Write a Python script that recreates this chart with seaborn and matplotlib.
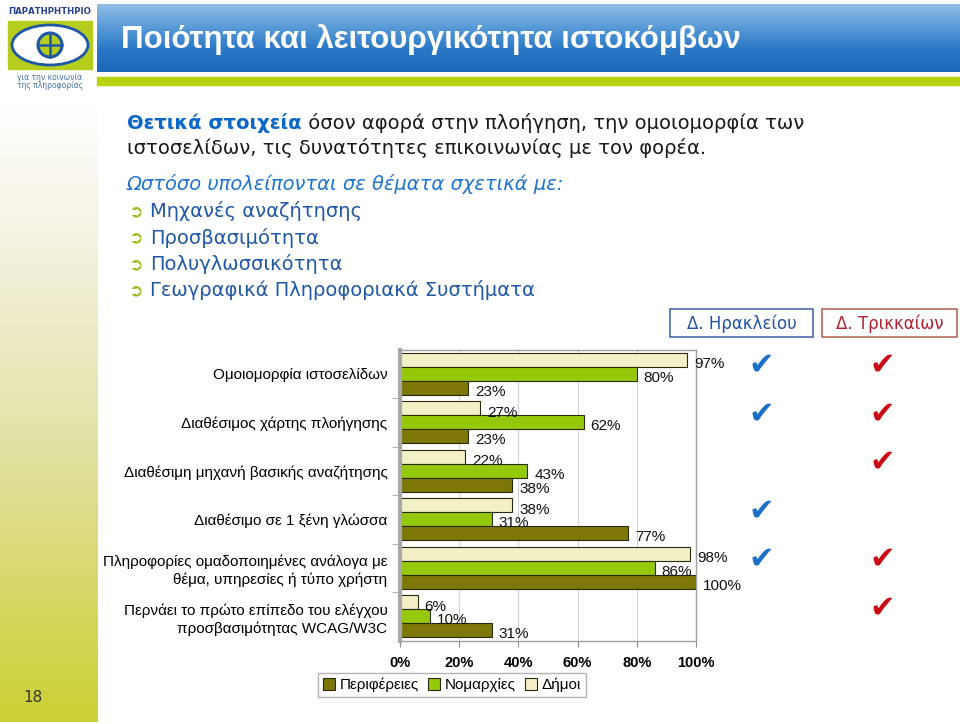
import numpy as np
import pandas as pd
import matplotlib
matplotlib.use("Agg")
import matplotlib.pyplot as plt
import matplotlib.transforms as mtransforms
from matplotlib.patches import Rectangle, Patch, Ellipse, Circle
from matplotlib.colors import LinearSegmentedColormap
import seaborn as sns

# ---------------- data ----------------
categories = [
    "Ομοιομορφία ιστοσελίδων",
    "Διαθέσιμος χάρτης πλοήγησης",
    "Διαθέσιμη μηχανή βασικής αναζήτησης",
    "Διαθέσιμο σε 1 ξένη γλώσσα",
    "Πληροφορίες ομαδοποιημένες ανάλογα με\nθέμα, υπηρεσίες ή τύπο χρήστη",
    "Περνάει το πρώτο επίπεδο του ελέγχου\nπροσβασιμότητας WCAG/W3C",
]
series_names = ["Περιφέρειες", "Νομαρχίες", "Δήμοι"]
perifereies = [23, 23, 38, 77, 100, 31]
nomarchies = [80, 62, 43, 31, 86, 10]
dimoi = [97, 27, 22, 38, 98, 6]
x_ticks = [0, 20, 40, 60, 80, 100]
x_tick_labels = ["0%", "20%", "40%", "60%", "80%", "100%"]
heraklion_checks = [True, True, False, True, True, False]
trikala_checks = [True, True, True, False, True, True]
column_titles = ["Δ. Ηρακλείου", "Δ. Τρικκαίων"]

title = "Ποιότητα και λειτουργικότητα ιστοκόμβων"
intro_bold = "Θετικά στοιχεία"
intro_rest = " όσον αφορά στην πλοήγηση, την ομοιομορφία των"
intro_line2 = "ιστοσελίδων, τις δυνατότητες επικοινωνίας με τον φορέα."
however = "Ωστόσο υπολείπονται σε θέματα σχετικά με:"
bullets = ["Μηχανές αναζήτησης", "Προσβασιμότητα", "Πολυγλωσσικότητα",
           "Γεωγραφικά Πληροφοριακά Συστήματα"]
page_number = "18"

colors = {"Περιφέρειες": "#7d7806", "Νομαρχίες": "#96c80a", "Δήμοι": "#f4f0c6"}

df = pd.DataFrame({
    "Κατηγορία": categories * 3,
    "Σειρά": [series_names[0]] * 6 + [series_names[1]] * 6 + [series_names[2]] * 6,
    "Τιμή": perifereies + nomarchies + dimoi,
})

plt.rcParams["font.family"] = ["DejaVu Sans"]
W, H = 960, 724
fig = plt.figure(figsize=(W / 100, H / 100), dpi=100)
fig.patch.set_facecolor("white")


def fx(x):
    return x / W


def fy(y):
    return 1 - y / H


# ---------------- slide decorations ----------------
bg = fig.add_axes([0, 0, 1, 1], zorder=0)
bg.set_xlim(0, W)
bg.set_ylim(H, 0)
bg.axis("off")

header_cmap = LinearSegmentedColormap.from_list("hdr", ["#8fbde6", "#5a9bd8", "#2a78c6", "#1a68b8"])
grad = np.linspace(0, 1, 100).reshape(-1, 1)
bg.imshow(grad, cmap=header_cmap, extent=(97, 960, 72, 4), aspect="auto", zorder=1)
bg.add_patch(Rectangle((97, 77), 863, 8, color="#b8d20e", zorder=1))

strip_cmap = LinearSegmentedColormap.from_list(
    "strip", [(0, "#ffffff"), (0.2, "#f6f3e4"), (0.55, "#e2e2a6"), (1, "#cdd034")])
bg.imshow(grad, cmap=strip_cmap, extent=(0, 98, 722, 100), aspect="auto", zorder=1)

# logo
bg.text(50, 12, "ΠΑΡΑΤΗΡΗΤΗΡΙΟ", ha="center", va="center", fontsize=6.2,
        fontweight="bold", color="#27408f", zorder=2)
bg.add_patch(Rectangle((8, 21), 84, 48, color="#b6cd1e", zorder=2))
bg.add_patch(Ellipse((50, 45), 76, 40, fc="white", ec="#1f56a5", lw=2, zorder=3))
bg.add_patch(Circle((50, 45), 12, fc="#b6cd1e", ec="#1f56a5", lw=2.2, zorder=4))
bg.plot([50, 50], [33, 57], color="#1f56a5", lw=1.8, zorder=5)
bg.plot([38, 62], [45, 45], color="#1f56a5", lw=1.8, zorder=5)
bg.text(50, 77, "για την κοινωνία", ha="center", va="center", fontsize=5.5,
        color="#4a73a8", zorder=2)
bg.text(50, 86, "της πληροφορίας", ha="center", va="center", fontsize=5.5,
        color="#4a73a8", zorder=2)

bg.text(121, 40, title, ha="left", va="center", fontsize=22.5, fontweight="bold",
        color="white", family="Liberation Sans", zorder=3)

# body text
renderer = fig.canvas.get_renderer()
t1 = bg.text(127, 123, intro_bold, ha="left", va="center", fontsize=14,
             fontweight="bold", color="#0a66c8", zorder=3)
bb = t1.get_window_extent(renderer=renderer)
bg.text(127 + bb.width, 123, intro_rest, ha="left", va="center", fontsize=14,
        color="#1a1a1a", zorder=3)
bg.text(127, 148, intro_line2, ha="left", va="center", fontsize=14,
        color="#1a1a1a", zorder=3)
bg.text(127, 184, however, ha="left", va="center", fontsize=14, style="italic",
        color="#1f74d0", zorder=3)
for i, b in enumerate(bullets):
    yy = 211 + i * 26.5
    bg.text(128, yy, "➲", ha="left", va="center", fontsize=12.5, color="#9abb1e", zorder=3)
    bg.text(150, yy, b, ha="left", va="center", fontsize=14, color="#2058a8", zorder=3)

# column title boxes
bg.add_patch(Rectangle((670, 309), 143, 28, fc="white", ec="#3a5ea8", lw=1.1, zorder=2))
bg.text(741.5, 323.5, column_titles[0], ha="center", va="center", fontsize=12,
        color="#2352a8", zorder=3)
bg.add_patch(Rectangle((822, 309), 135, 28, fc="white", ec="#b0604c", lw=1.1, zorder=2))
bg.text(889.5, 323.5, column_titles[1], ha="center", va="center", fontsize=12,
        color="#b32232", zorder=3)

bg.text(33, 697, page_number, ha="center", va="center", fontsize=11, color="#333333",
        zorder=3)

# ---------------- chart ----------------
ax = fig.add_axes([fx(400), fy(640.5), 296 / W, 291 / H], zorder=2)
hue_order = ["Δήμοι", "Νομαρχίες", "Περιφέρειες"]
sns.barplot(data=df, y="Κατηγορία", x="Τιμή", hue="Σειρά", hue_order=hue_order,
            order=categories, palette=colors, orient="h", width=0.86,
            edgecolor="#2a2a10", linewidth=0.8, saturation=1, legend=False,
            errorbar=None, ax=ax)

ax.set_xlim(0, 100)
ax.set_ylim(len(categories) - 0.5, -0.5)
ax.set_xlabel("")
ax.set_ylabel("")
ax.set_facecolor("white")
ax.xaxis.grid(True, color="#d4d4d4", lw=0.8)
ax.set_axisbelow(True)
for s in ["top", "right", "bottom"]:
    ax.spines[s].set_color("#a0a0a0")
    ax.spines[s].set_linewidth(1)
ax.spines["left"].set_color("#a8a8a8")
ax.spines["left"].set_linewidth(3)

ax.set_xticks(x_ticks)
ax.set_xticklabels(x_tick_labels, fontsize=10.5, fontweight="bold", family="Liberation Sans")
ax.tick_params(axis="x", length=4, color="#909090", pad=7)
ax.set_yticks(range(len(categories)))
ax.set_yticklabels(categories, fontsize=11, family="Liberation Sans", linespacing=1.3)
ax.tick_params(axis="y", which="major", length=0, pad=9)
ax.set_yticks(np.arange(0.5, len(categories) - 0.5, 1), minor=True)
ax.tick_params(axis="y", which="minor", length=6, color="#a0a0a0")

for container in ax.containers:
    for bar in container:
        w = bar.get_width()
        ax.annotate(f"{w:.0f}%", (w, bar.get_y() + bar.get_height() / 2),
                    xytext=(5, -3), textcoords="offset points", ha="left", va="center",
                    fontsize=11, family="Liberation Sans", color="#111111",
                    annotation_clip=False)

# checkmarks
trans = mtransforms.blended_transform_factory(fig.transFigure, ax.transData)
for i, (h_ok, t_ok) in enumerate(zip(heraklion_checks, trikala_checks)):
    if h_ok:
        ax.text(fx(761), i - 0.18, "✔", transform=trans, ha="center", va="center",
                fontsize=22, color="#1a6fc8", clip_on=False)
    if t_ok:
        ax.text(fx(882), i - 0.18, "✔", transform=trans, ha="center", va="center",
                fontsize=22, color="#cc0a14", clip_on=False)

# legend
handles = [Patch(fc=colors[n], ec="#2a2a10", lw=0.8) for n in series_names]
fig.legend(handles, series_names, loc="center", bbox_to_anchor=(fx(452), fy(685)),
           ncol=3, frameon=True, fancybox=False, edgecolor="#a0a0a0",
           prop={"family": "Liberation Sans", "size": 11}, handlelength=0.8,
           handleheight=0.8, handletextpad=0.3, columnspacing=0.6, borderpad=0.3)

fig.savefig("out.png", dpi=100)
